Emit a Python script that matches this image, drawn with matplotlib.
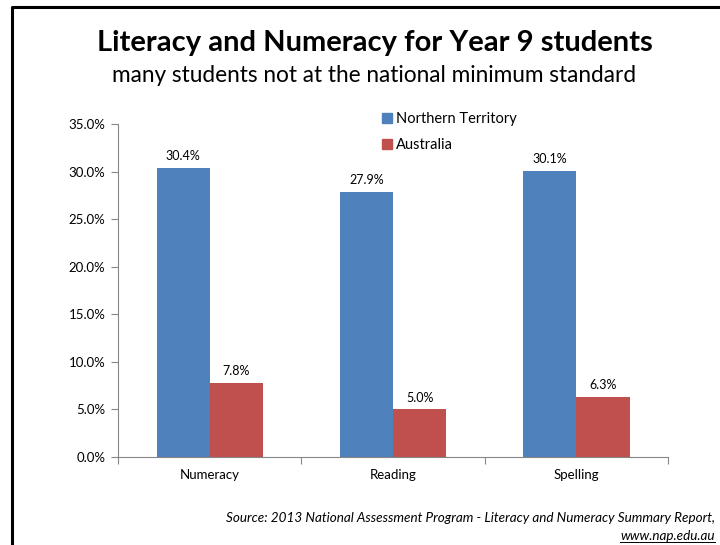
import numpy as np
import matplotlib.pyplot as plt
from matplotlib.lines import Line2D
from matplotlib.patches import Patch

plt.rcParams['font.family'] = ['Lato', 'DejaVu Sans']

categories = ['Numeracy', 'Reading', 'Spelling']
nt_values = [30.4, 27.9, 30.1]
aus_values = [7.8, 5.0, 6.3]
series_names = ['Northern Territory', 'Australia']

blue = '#4F81BD'
red = '#C0504D'
axis_col = '#868686'

fig = plt.figure(figsize=(7.2, 5.45), dpi=100)
ax = fig.add_axes([0.1639, 0.1615, 0.7639, 0.611])

x = np.arange(len(categories))
w = 0.29
b1 = ax.bar(x - w / 2, nt_values, w, color=blue, label=series_names[0])
b2 = ax.bar(x + w / 2, aus_values, w, color=red, label=series_names[1])

for bars, vals in [(b1, nt_values), (b2, aus_values)]:
    for bar, v in zip(bars, vals):
        ax.annotate(f'{v:.1f}%', (bar.get_x() + bar.get_width() / 2, v),
                    xytext=(0, 4), textcoords='offset points',
                    ha='center', va='bottom', fontsize=9)

ax.set_xlim(-0.5, 2.5)
ax.set_ylim(0, 35)
ax.set_yticks(np.arange(0, 35.1, 5))
ax.set_yticklabels([f'{t:.1f}%' for t in np.arange(0, 35.1, 5)], fontsize=9.5)
ax.set_xticks([-0.5, 0.5, 1.5, 2.5])
ax.set_xticklabels([])
ax.set_xticks(x, minor=True)
ax.set_xticklabels(categories, minor=True, fontsize=9.5)
ax.tick_params(axis='x', which='minor', length=0, pad=9)
ax.tick_params(axis='x', which='major', length=5, color=axis_col, direction='out')
ax.tick_params(axis='y', length=5, color=axis_col, direction='out', pad=4)

for s in ['top', 'right']:
    ax.spines[s].set_visible(False)
for s in ['left', 'bottom']:
    ax.spines[s].set_color(axis_col)
    ax.spines[s].set_linewidth(0.8)

handles = [Patch(color=blue), Patch(color=red)]
fig.legend(handles, series_names, loc='upper left', bbox_to_anchor=(0.513, 0.818),
           frameon=False, fontsize=10.5, handlelength=0.65, handleheight=0.65,
           handletextpad=0.3, labelspacing=0.82)

fig.text(0.52, 0.922, 'Literacy and Numeracy for Year 9 students', ha='center',
         va='center', fontsize=21, fontweight='bold')
fig.text(0.52, 0.862, 'many students not at the national minimum standard',
         ha='center', va='center', fontsize=16.3)

fig.text(0.993, 0.049, 'Source: 2013 National Assessment Program - Literacy and Numeracy Summary Report,',
         ha='right', va='center', fontsize=9.7, style='italic')
url = fig.text(0.993, 0.016, 'www.nap.edu.au', ha='right', va='center', fontsize=9.7,
               style='italic')

fig.canvas.draw()
bb = url.get_window_extent().transformed(fig.transFigure.inverted())
fig.add_artist(Line2D([bb.x0, bb.x1], [0.006, 0.006], color='black', lw=0.7))

# frame around the slide
fig.add_artist(Line2D([0.0165, 0.0165, 1.0], [0.0, 0.988, 0.988], color='black', lw=2.2))

fig.savefig('out.png', dpi=100)
